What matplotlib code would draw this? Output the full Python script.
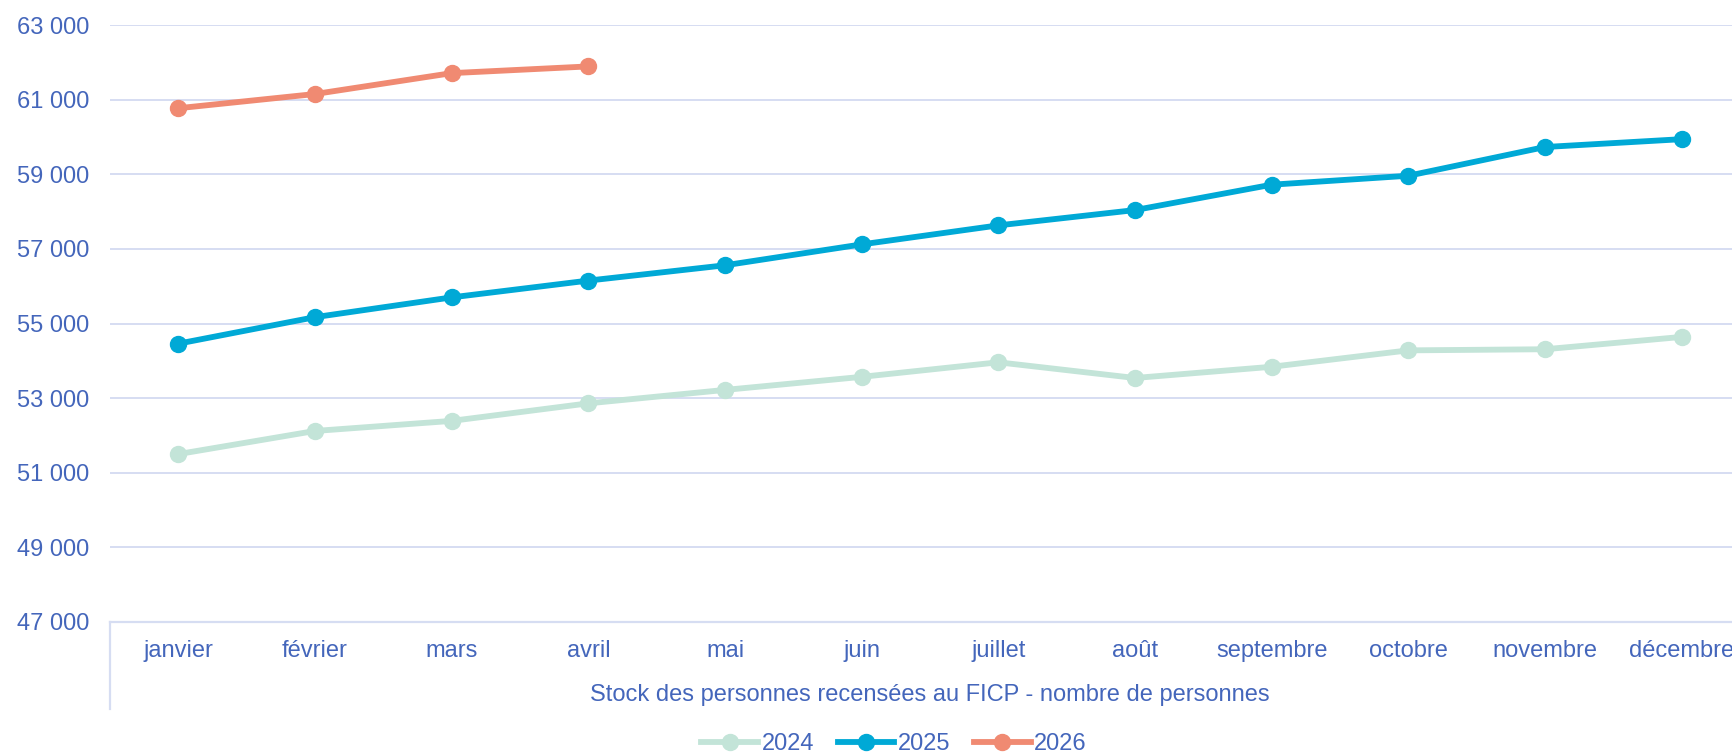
# Stock FICP - nombre de personnes par mois, 2024-2026
import matplotlib.pyplot as plt
from matplotlib.ticker import FuncFormatter

plt.rcParams['font.family'] = ['Liberation Sans', 'DejaVu Sans']

mois = ["janvier", "février", "mars", "avril", "mai", "juin", "juillet",
        "août", "septembre", "octobre", "novembre", "décembre"]

stock_2024 = [51500, 52120, 52390, 52860, 53220, 53570, 53960,
              53540, 53840, 54280, 54310, 54640]
stock_2025 = [54460, 55170, 55700, 56150, 56560, 57120, 57630,
              58040, 58720, 58960, 59730, 59940]
stock_2026 = [60770, 61150, 61710, 61890]

y_ticks = list(range(47000, 63001, 2000))

txt_col = "#4466BB"
grid_col = "#D6DDF2"

fig = plt.figure(figsize=(17.32, 7.55), dpi=100)
ax = fig.add_axes([110 / 1732, 133 / 755, 1640 / 1732, 597 / 755])

x = list(range(len(mois)))
ax.plot(x, stock_2024, color="#C3E4D8", lw=4.2, marker="o", ms=11.5, label="2024", zorder=3)
ax.plot(x, stock_2025, color="#00A9D6", lw=4.2, marker="o", ms=11.5, label="2025", zorder=4)
ax.plot(x[:len(stock_2026)], stock_2026, color="#F08A72", lw=4.2, marker="o", ms=11.5,
        label="2026", zorder=5)

ax.set_xlim(-0.5, 11.5)
ax.set_ylim(47000, 63000)
ax.set_yticks(y_ticks)
ax.yaxis.set_major_formatter(FuncFormatter(lambda v, p: f"{int(v):,}".replace(",", " ")))
ax.set_xticks(x)
ax.set_xticklabels(mois)

ax.grid(axis="y", color=grid_col, lw=1.4)
ax.set_axisbelow(True)
for s in ["top", "right", "left"]:
    ax.spines[s].set_visible(False)
ax.spines["bottom"].set_color(grid_col)
ax.spines["bottom"].set_linewidth(1.6)
ax.tick_params(axis="both", length=0, labelsize=17, labelcolor=txt_col)
ax.tick_params(axis="y", pad=15)
ax.tick_params(axis="x", pad=13)

# petit trait vertical sous l'axe, à gauche
ax.plot([0, 0], [0, -0.145], transform=ax.transAxes, color=grid_col, lw=1.6, clip_on=False)

fig.text(930 / 1732, 1 - 695 / 755, "Stock des personnes recensées au FICP - nombre de personnes",
         ha="center", va="center", fontsize=17, color=txt_col)

fig.legend(loc="center", bbox_to_anchor=(894 / 1732, 1 - 744 / 755), ncol=3, frameon=False,
           fontsize=17, labelcolor=txt_col, handlelength=2.4, handletextpad=0.15,
           columnspacing=1.0, borderaxespad=0)

fig.savefig("out.png", dpi=100)
